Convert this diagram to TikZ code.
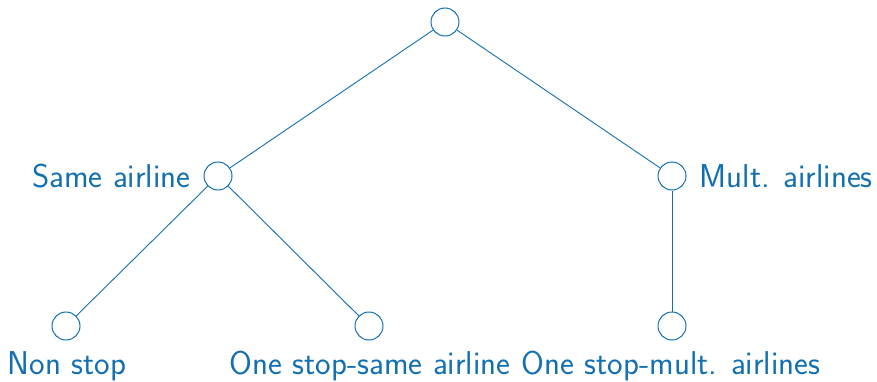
\documentclass[tikz,border=0pt]{standalone}
\usepackage{fontspec}
\definecolor{tblue}{RGB}{18,112,178}
\begin{document}
\begin{tikzpicture}[x=1pt,y=1pt,
  vert/.style={circle,draw=tblue,line width=1pt,minimum size=28pt,inner sep=0pt},
  lab/.style={text=tblue,font=\sffamily\fontsize{33}{38}\selectfont,inner sep=0pt},
  edge/.style={draw=tblue,line width=0.9pt}]
\useasboundingbox (0,0) rectangle (877,381);
\node[vert] (root) at (445,359) {};
\node[vert] (same) at (218,205) {};
\node[vert] (mult) at (672,205) {};
\node[vert] (non) at (66,55) {};
\node[vert] (oss) at (369,55) {};
\node[vert] (osm) at (672,55) {};
\node[lab,anchor=east] (lsame) at ([xshift=-13pt]same.west) {Same airline};
\node[lab,anchor=west] (lmult) at ([xshift=13pt]mult.east) {Mult. airlines};
\node[lab,anchor=base] (lnon) at (67,7) {Non stop};
\node[lab,anchor=base] (loss) at (370,7) {One stop-same airline};
\node[lab,anchor=base] (losm) at (671,7) {One stop-mult. airlines};
\draw[edge] (root) -- (same);
\draw[edge] (root) -- (mult);
\draw[edge] (same) -- (non);
\draw[edge] (same) -- (oss);
\draw[edge] (mult) -- (osm);
\end{tikzpicture}
\end{document}
